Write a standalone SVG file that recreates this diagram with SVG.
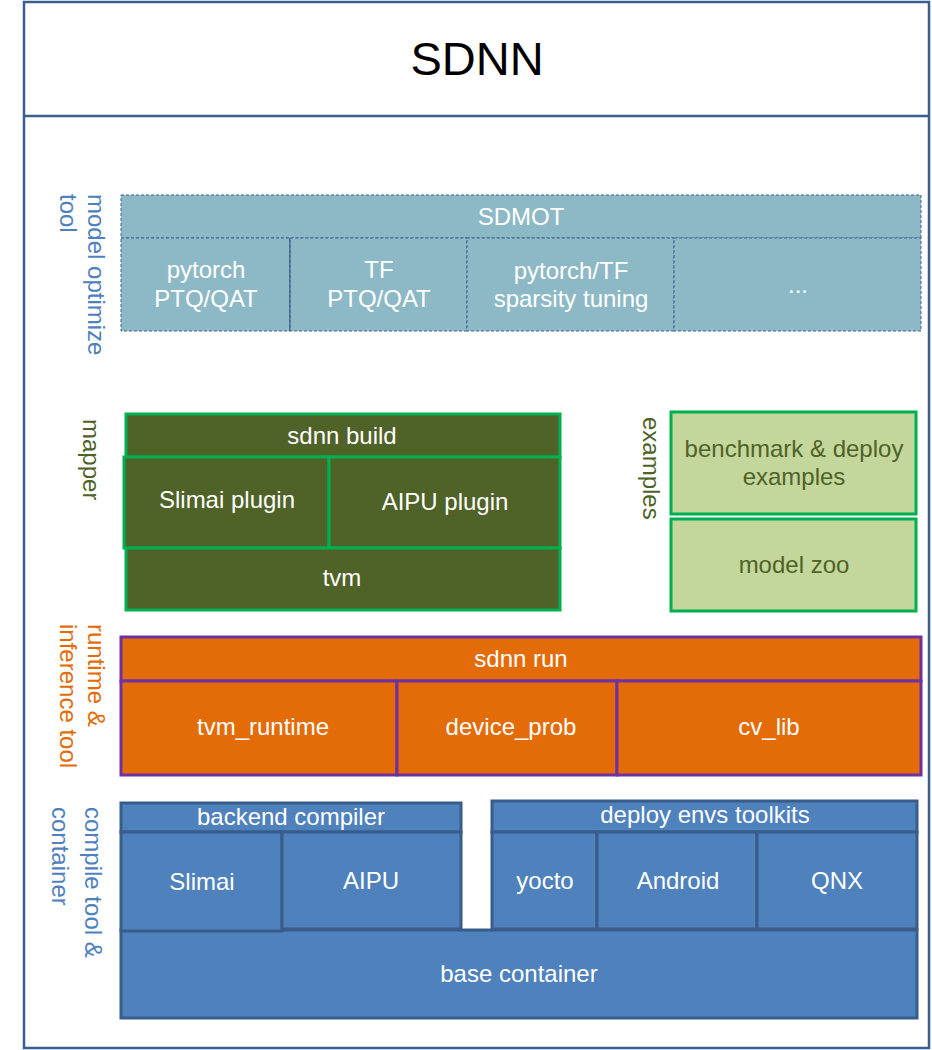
<svg xmlns="http://www.w3.org/2000/svg" width="932" height="1050" viewBox="0 0 932 1050">
<style>
text{font-family:"Liberation Sans",Arial,sans-serif;font-size:24px}
.c{text-anchor:middle}
.w{fill:#ffffff}
.mot{fill:#8DB9C6;stroke:#3E6293;stroke-width:1;stroke-dasharray:3 2}
.map{fill:#4F6228;stroke:#00B050;stroke-width:3}
.ex{fill:#C3D69B;stroke:#00B050;stroke-width:3}
.rt{fill:#E36C09;stroke:#7030A0;stroke-width:3}
.cp{fill:#4F81BD;stroke:#385D8A;stroke-width:3}
.lb{fill:#4F81BD}
.lg{fill:#4F6228}
.lo{fill:#E36C09}
</style>
<g id="frame">
<rect x="24" y="2" width="905" height="1046" fill="#ffffff" stroke="#3A5F8F" stroke-width="2.5"/>
<line x1="24" y1="116" x2="929" y2="116" stroke="#3A5F8F" stroke-width="2.5"/>
<text x="477" y="75" class="c" style="font-size:47px" fill="#000000">SDNN</text>
</g>
<g id="labels">
<text transform="translate(88,194) rotate(90)" class="lb">model optimize</text>
<text transform="translate(60,194) rotate(90)" class="lb">tool</text>
<text transform="translate(83,419) rotate(90)" class="lg">mapper</text>
<text transform="translate(643,417) rotate(90)" class="lg">examples</text>
<text transform="translate(88,624) rotate(90)" class="lo">runtime &amp;</text>
<text transform="translate(60,624) rotate(90)" class="lo">inference tool</text>
<text transform="translate(85,807) rotate(90)" class="lb">compile tool &amp;</text>
<text transform="translate(52,807) rotate(90)" class="lb">container</text>
</g>
<g id="sdmot">
<rect x="121" y="195" width="800" height="43" class="mot"/>
<text x="521" y="225" class="c w">SDMOT</text>
</g>
<g id="pytorch-ptq">
<rect x="121" y="238" width="169" height="93" class="mot"/>
<line x1="290" y1="238" x2="290" y2="331" stroke="#3E6293" stroke-width="1"/>
<text x="206" y="278" class="c w">pytorch</text>
<text x="206" y="307" class="c w">PTQ/QAT</text>
</g>
<g id="tf-ptq">
<rect x="290" y="238" width="177" height="93" class="mot"/>
<line x1="290" y1="238" x2="290" y2="331" stroke="#3E6293" stroke-width="1"/>
<text x="379" y="278" class="c w">TF</text>
<text x="379" y="307" class="c w">PTQ/QAT</text>
</g>
<g id="sparsity">
<rect x="467" y="238" width="207" height="93" class="mot"/>
<text x="571" y="279" class="c w">pytorch/TF</text>
<text x="571" y="307" class="c w">sparsity tuning</text>
</g>
<g id="more">
<rect x="674" y="238" width="247" height="93" class="mot"/>
<text x="798" y="293" class="c w">...</text>
</g>
<g id="sdnn-build">
<rect x="126" y="414" width="434" height="43" class="map"/>
<text x="342" y="444" class="c w">sdnn build</text>
</g>
<g id="slimai-plugin">
<rect x="124" y="457" width="205" height="91" class="map"/>
<text x="227" y="508" class="c w">Slimai plugin</text>
</g>
<g id="aipu-plugin">
<rect x="329" y="457" width="231" height="91" class="map"/>
<text x="445" y="510" class="c w">AIPU plugin</text>
</g>
<g id="tvm">
<rect x="126" y="548" width="434" height="62" class="map"/>
<text x="342" y="586" class="c w">tvm</text>
</g>
<g id="benchmark">
<rect x="671" y="412" width="245" height="102" class="ex"/>
<text x="794" y="457" class="c lg">benchmark &amp; deploy</text>
<text x="794" y="485" class="c lg">examples</text>
</g>
<g id="model-zoo">
<rect x="671" y="519" width="245" height="92" class="ex"/>
<text x="794" y="573" class="c lg">model zoo</text>
</g>
<g id="sdnn-run">
<rect x="121" y="637" width="800" height="44" class="rt"/>
<text x="521" y="667" class="c w">sdnn run</text>
</g>
<g id="tvm-runtime">
<rect x="121" y="681" width="276" height="94" class="rt"/>
<text x="263" y="735" class="c w">tvm_runtime</text>
</g>
<g id="device-prob">
<rect x="397" y="681" width="220" height="94" class="rt"/>
<text x="511" y="735" class="c w">device_prob</text>
</g>
<g id="cv-lib">
<rect x="617" y="681" width="304" height="94" class="rt"/>
<text x="769" y="735" class="c w">cv_lib</text>
</g>
<g id="base-container">
<rect x="121" y="930" width="796" height="88" class="cp"/>
<text x="519" y="982" class="c w">base container</text>
</g>
<g id="backend-compiler">
<rect x="121" y="803" width="340" height="29" class="cp"/>
<text x="291" y="825" class="c w">backend compiler</text>
</g>
<g id="slimai">
<rect x="121" y="832" width="161" height="99" class="cp"/>
<text x="202" y="890" class="c w">Slimai</text>
</g>
<g id="aipu">
<rect x="282" y="832" width="179" height="97" class="cp"/>
<text x="371" y="889" class="c w">AIPU</text>
</g>
<g id="deploy-envs">
<rect x="492" y="801" width="425" height="31" class="cp"/>
<text x="705" y="823" class="c w">deploy envs toolkits</text>
</g>
<g id="yocto">
<rect x="492" y="832" width="105" height="97" class="cp"/>
<text x="545" y="889" class="c w">yocto</text>
</g>
<g id="android">
<rect x="597" y="832" width="160" height="97" class="cp"/>
<text x="678" y="889" class="c w">Android</text>
</g>
<g id="qnx">
<rect x="757" y="832" width="160" height="97" class="cp"/>
<text x="837" y="889" class="c w">QNX</text>
</g>
<g id="connectors"></g>
</svg>
